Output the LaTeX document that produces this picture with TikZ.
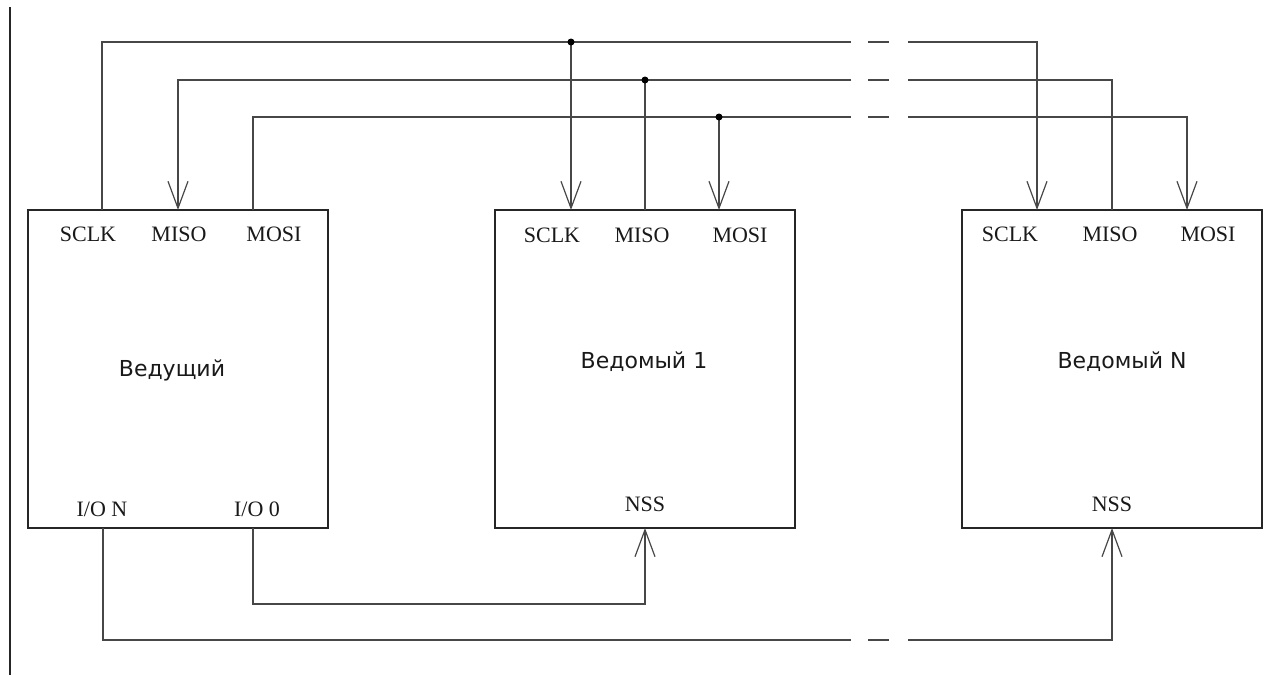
\documentclass[tikz,border=0pt]{standalone}
\usepackage{fontspec}
\setmainfont{Liberation Serif}
\newfontfamily\labfont{DejaVu Sans}
\usetikzlibrary{arrows.meta}
\begin{document}
\begin{tikzpicture}[x=1pt,y=-1pt,
  box/.style={draw=black!85,line width=2pt,minimum width=300pt,minimum height=318pt,inner sep=0pt},
  port/.style={font=\fontsize{22}{24}\selectfont,text=black!90,inner sep=0pt},
  title/.style={font=\labfont\fontsize{22}{24}\selectfont,text=black!90,inner sep=0pt},
  wire/.style={draw=black!72,line width=1.4pt},
  sig/.style={wire,-{Straight Barb[length=27pt,width=20pt,line width=1.2pt]}},
  dot/.style={circle,fill=black,inner sep=0pt,minimum size=7pt}]
\useasboundingbox (0,0) rectangle (1285,675);
\draw[black!85,line width=1.8pt] (10,7) -- (10,675);
% boxes
\node[box] (master) at (178,369) {};
\node[box] (slaveA) at (645,369) {};
\node[box] (slaveN) at (1112,369) {};
% titles
\node[title] (tm) at (172,370) {Ведущий};
\node[title] (t1) at (644,362) {Ведомый 1};
\node[title] (tn) at (1122,362) {Ведомый N};
% port labels
\node[port] (lmS) at (88,234) {SCLK};
\node[port] (lmM) at (179,234) {MISO};
\node[port] (lmO) at (274,234) {MOSI};
\node[port] (l1S) at (552,235) {SCLK};
\node[port] (l1M) at (642,235) {MISO};
\node[port] (l1O) at (740,235) {MOSI};
\node[port] (lnS) at (1010,234) {SCLK};
\node[port] (lnM) at (1110,234) {MISO};
\node[port] (lnO) at (1208,234) {MOSI};
\node[port] (lmN) at (102,509) {I/O N};
\node[port] (lm0) at (257,509) {I/O 0};
\node[port] (l1N) at (645,504) {NSS};
\node[port] (lnN) at (1112,504) {NSS};
% port points
\coordinate (mS) at (102,210);
\coordinate (mM) at (178,210);
\coordinate (mO) at (253,210);
\coordinate (s1S) at (571,210);
\coordinate (s1M) at (645,210);
\coordinate (s1O) at (719,210);
\coordinate (nS) at (1037,210);
\coordinate (nM) at (1112,210);
\coordinate (nO) at (1187,210);
\coordinate (mION) at (103,528);
\coordinate (mIO0) at (253,528);
\coordinate (s1N) at (645,528);
\coordinate (nN) at (1112,528);
% junctions
\coordinate (j1) at (571,42);
\coordinate (j2) at (645,80);
\coordinate (j3) at (719,117);
\coordinate (b1) at (645,604);
% gaps
\foreach \n/\y in {1/42,2/80,3/117,4/640}{
  \coordinate (g\n a) at (851,\y);
  \coordinate (g\n b) at (868,\y);
  \coordinate (g\n c) at (889,\y);
  \coordinate (g\n d) at (908,\y);
}
% SCLK
\draw[wire] (mS) |- (g1a);
\draw[wire] (g1b) -- (g1c);
\draw[sig] (g1d) -| (nS);
\draw[sig] (j1) -- (s1S);
% MISO
\draw[sig] (g2a) -| (mM);
\draw[wire] (g2b) -- (g2c);
\draw[wire] (g2d) -| (nM);
\draw[wire] (s1M) -- (j2);
% MOSI
\draw[wire] (mO) |- (g3a);
\draw[wire] (g3b) -- (g3c);
\draw[sig] (g3d) -| (nO);
\draw[sig] (j3) -- (s1O);
% NSS
\draw[sig] (mIO0) |- (b1) -- (s1N);
\draw[wire] (mION) |- (g4a);
\draw[wire] (g4b) -- (g4c);
\draw[sig] (g4d) -| (nN);
% dots
\node[dot] (d1) at (j1) {};
\node[dot] (d2) at (j2) {};
\node[dot] (d3) at (j3) {};
\end{tikzpicture}
\end{document}
